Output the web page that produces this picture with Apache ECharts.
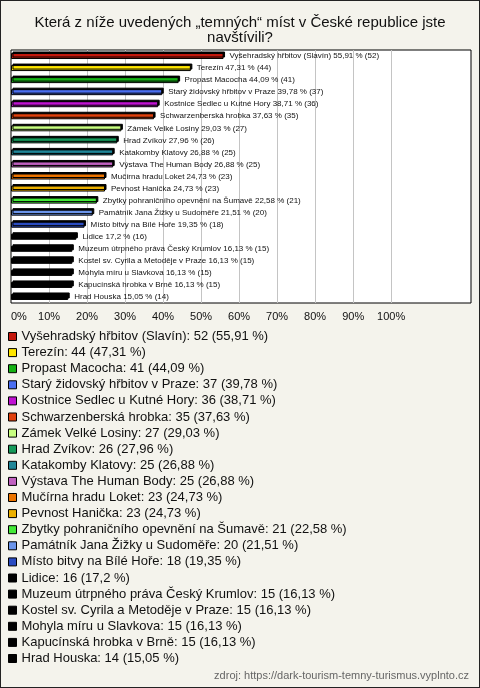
<!DOCTYPE html>
<html>
<head>
<meta charset="utf-8">
<script src="https://cdn.jsdelivr.net/npm/echarts@6/dist/echarts.min.js"></script>
<style>
html,body{margin:0;padding:0;background:#f4f3ec;}
#chart{width:480px;height:688px;position:absolute;left:0;top:0;}
#frame{width:480px;height:688px;position:absolute;left:0;top:0;border:1px solid #222;box-sizing:border-box;pointer-events:none;}
</style>
</head>
<body>
<div id="chart"></div>
<div id="frame"></div>
<script>
const categories = [
  'Vyšehradský hřbitov (Slavín)', 'Terezín', 'Propast Macocha', 'Starý židovský hřbitov v Praze',
  'Kostnice Sedlec u Kutné Hory', 'Schwarzenberská hrobka', 'Zámek Velké Losiny', 'Hrad Zvíkov',
  'Katakomby Klatovy', 'Výstava The Human Body', 'Mučírna hradu Loket', 'Pevnost Hanička',
  'Zbytky pohraničního opevnění na Šumavě', 'Památník Jana Žižky u Sudoměře', 'Místo bitvy na Bílé Hoře',
  'Lidice', 'Muzeum útrpného práva Český Krumlov', 'Kostel sv. Cyrila a Metoděje v Praze',
  'Mohyla míru u Slavkova', 'Kapucínská hrobka v Brně', 'Hrad Houska'
];
const counts = [52, 44, 41, 37, 36, 35, 27, 26, 25, 25, 23, 23, 21, 20, 18, 16, 15, 15, 15, 15, 14];
const percents = [55.91, 47.31, 44.09, 39.78, 38.71, 37.63, 29.03, 27.96, 26.88, 26.88, 24.73, 24.73, 22.58, 21.51, 19.35, 17.2, 16.13, 16.13, 16.13, 16.13, 15.05];
const colors = ['#c4170c', '#ffe600', '#14b214', '#4a6ef0', '#c012d2', '#e0400c', '#c8ff80', '#159a5a',
  '#1f8698', '#c060c0', '#ec7400', '#ecb000', '#44ea38', '#6a94ea', '#2a4cc2',
  '#000000', '#000000', '#000000', '#000000', '#000000', '#000000'];
const axisTicks = [0, 10, 20, 30, 40, 50, 60, 70, 80, 90, 100];
const titleText = 'Která z níže uvedených „temných“ míst v České republice jste\nnavštívili?';
const sourceText = 'zdroj: https://dark-tourism-temny-turismus.vyplnto.cz';

const fmt = v => String(v).replace('.', ',');
const FONT = 'Liberation Sans, Arial, sans-serif';

const series = categories.map((name, i) => ({
  name: name,
  type: 'bar',
  barWidth: 6,
  barGap: '-100%',
  data: categories.map((_, j) => j === i ? percents[i] : '-'),
  itemStyle: {
    color: colors[i], borderColor: '#000', borderWidth: 1,
    shadowColor: '#000', shadowOffsetX: 1.5, shadowOffsetY: -1.5, shadowBlur: 0
  },
  label: {
    show: true, position: 'right', distance: 6,
    fontSize: 8, fontFamily: FONT, color: '#111',
    formatter: () => `${name} ${fmt(percents[i])} % (${counts[i]})`
  },
  emphasis: {disabled: true},
  animation: false
}));

const gridColors = ['transparent'].concat(axisTicks.slice(1).map(() => '#c4c4c4'), ['transparent', 'transparent']);

const chart = echarts.init(document.getElementById('chart'), null, {renderer: 'canvas'});
chart.setOption({
  backgroundColor: '#f4f3ec',
  animation: false,
  title: [
    {text: titleText, left: 'center', top: 10, textStyle: {fontSize: 15, fontWeight: 'normal', color: '#111', fontFamily: FONT, lineHeight: 15}},
    {text: sourceText, right: 6, bottom: 2, textStyle: {fontSize: 11, fontWeight: 'normal', color: '#666', fontFamily: FONT}}
  ],
  grid: {left: 11, right: 9, top: 50, bottom: 385, show: true, backgroundColor: '#fff', borderColor: '#000', borderWidth: 1, containLabel: false},
  xAxis: {
    type: 'value', min: 0, max: 121, interval: 10,
    axisLine: {show: false}, axisTick: {show: false},
    splitLine: {show: true, lineStyle: {color: gridColors, width: 1}},
    axisLabel: {fontSize: 11, color: '#111', fontFamily: FONT, margin: 8, alignMinLabel: 'left',
      formatter: v => axisTicks.indexOf(v) >= 0 ? v + '%' : ''}
  },
  yAxis: {
    type: 'category', inverse: true, data: categories,
    axisLabel: {show: false}, axisTick: {show: false}, axisLine: {show: false}, splitLine: {show: false}
  },
  legend: {
    orient: 'vertical', left: 8, top: 330, padding: 0,
    itemWidth: 8, itemHeight: 8, itemGap: 3.1,
    icon: 'rect', selectedMode: false,
    itemStyle: {borderColor: '#000', borderWidth: 1, shadowBlur: 0, shadowOffsetX: 0, shadowOffsetY: 0, shadowColor: 'transparent'},
    textStyle: {fontSize: 13, color: '#111', fontFamily: FONT},
    formatter: name => {
      const i = categories.indexOf(name);
      return `${name}: ${counts[i]} (${fmt(percents[i])} %)`;
    },
    data: categories
  },
  series: series
});
</script>
</body>
</html>
